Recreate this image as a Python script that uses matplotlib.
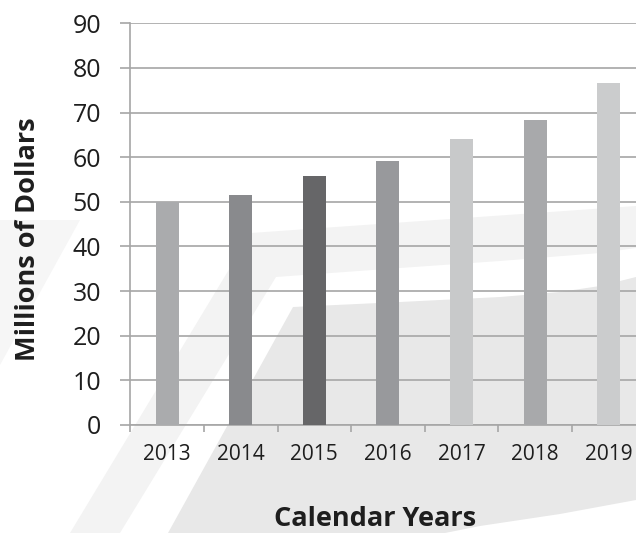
import matplotlib
matplotlib.use("Agg")
import matplotlib.pyplot as plt
from matplotlib.patches import Polygon
from matplotlib.ticker import FixedLocator

years = ["2013", "2014", "2015", "2016", "2017", "2018", "2019"]
values = [50.0, 51.5, 55.8, 59.2, 64.1, 68.3, 76.6]
bar_colors = ["#aaabad", "#898a8d", "#666668", "#98999c", "#c8c9ca", "#a8a9ab", "#cbcccd"]
y_ticks = [0, 10, 20, 30, 40, 50, 60, 70, 80, 90]

W, H = 636, 533
fig = plt.figure(figsize=(W / 100, H / 100), dpi=100)
fig.patch.set_facecolor("white")


def px(pts):
    return [(x / W, 1 - y / H) for x, y in pts]


def add_poly(pts, color, z):
    fig.add_artist(Polygon(px(pts), closed=True, facecolor=color, edgecolor="none",
                           transform=fig.transFigure, zorder=z))


# decorative background swooshes
add_poly([(0, 220), (80, 220), (0, 365)], "#f6f6f6", -10)
add_poly([(251, 233), (350, 226), (450, 219), (550, 212), (636, 206), (636, 533), (70, 533)], "#f3f3f3", -9)
add_poly([(276, 277), (400, 268), (500, 261), (600, 253), (636, 248), (636, 533), (120, 533)], "white", -8)
add_poly([(293, 307), (400, 302), (500, 297), (560, 292), (600, 286), (636, 277),
          (636, 500), (560, 514), (480, 526), (445, 533), (168, 533)], "#e8e8e8", -7)

left, right = 130.3, 636
top, bottom = 23.3, 425
ax = fig.add_axes([left / W, 1 - bottom / H, (right - left) / W, (bottom - top) / H])
ax.set_facecolor("none")

x = list(range(len(years)))
ax.bar(x, values, width=0.31, color=bar_colors, zorder=3)

spacing = (645.5 - 130.3) / 7
ax.set_xlim(-0.5, -0.5 + (right - left) / spacing)
ax.set_ylim(0, 90)

gc = "#a6a6a6"
ax.set_yticks(y_ticks)
ax.set_yticklabels([str(v) for v in y_ticks], fontsize=18, family="Open Sans", color="#1e1e1e")
ax.yaxis.grid(True, color=gc, linewidth=1.2, zorder=1)
ax.tick_params(axis="y", length=7, width=1.2, color=gc, pad=14)

ax.set_xticks(x)
ax.set_xticklabels(years, fontsize=15, family="Open Sans", color="#1e1e1e")
ax.tick_params(axis="x", which="major", length=0, pad=14)
ax.xaxis.set_minor_locator(FixedLocator([i - 0.5 for i in range(len(years) + 1)]))
ax.tick_params(axis="x", which="minor", length=5, width=1.2, color=gc)

for s in ["top", "right"]:
    ax.spines[s].set_visible(False)
ax.spines["left"].set_color(gc)
ax.spines["left"].set_linewidth(1.2)
ax.spines["bottom"].set_color(gc)
ax.spines["bottom"].set_linewidth(1.2)
ax.set_axisbelow(True)

fig.text(28 / W, 1 - 239 / H, "Millions of Dollars", rotation=90, ha="center", va="center",
         fontsize=19.5, fontweight="bold", family="Open Sans", color="#1e1e1e")
fig.text(375 / W, 1 - 506 / H, "Calendar Years", ha="center", va="top",
         fontsize=19.5, fontweight="bold", family="Open Sans", color="#1e1e1e")

fig.savefig("out.png", dpi=100)
